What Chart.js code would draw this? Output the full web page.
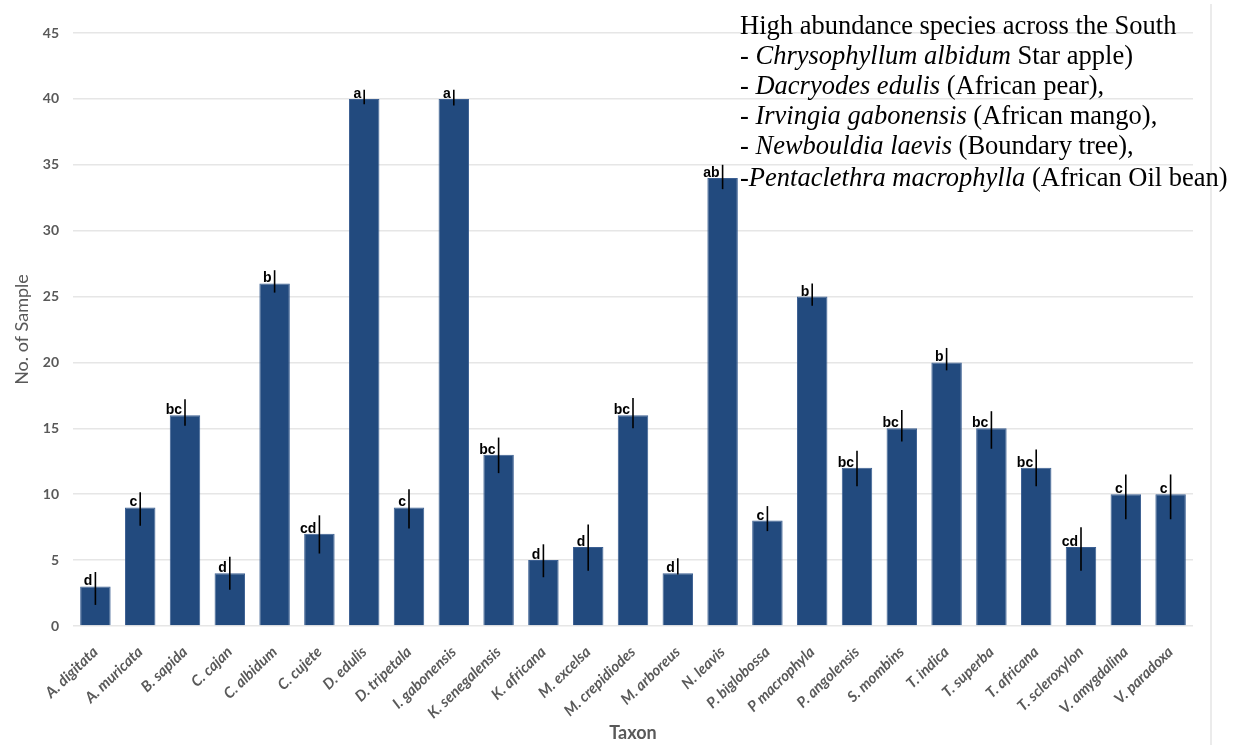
<!DOCTYPE html>
<html>
<head>
<meta charset="utf-8">
<script src="https://cdn.jsdelivr.net/npm/chart.js@4.4.1/dist/chart.umd.min.js"></script>
<style>
  html, body { margin: 0; padding: 0; background: #ffffff; }
  #wrap { width: 1242px; height: 749px; position: relative; }
</style>
</head>
<body>
<div id="wrap"><canvas id="chart" width="1242" height="749"></canvas></div>
<script>
// Taxa sampled and their counts
const taxa = [
  'A. digitata', 'A. muricata', 'B. sapida', 'C. cajan', 'C. albidum', 'C. cujete',
  'D. edulis', 'D. tripetala', 'I. gabonensis', 'K. senegalensis', 'K. africana',
  'M. excelsa', 'M. crepidiodes', 'M. arboreus', 'N. leavis', 'P. biglobossa',
  'P macrophyla', 'P. angolensis', 'S. mombins', 'T. indica', 'T. superba',
  'T. africana', 'T. scleroxylon', 'V. amygdalina', 'V. paradoxa'
];
const samples = [3, 9, 16, 4, 26, 7, 40, 9, 40, 13, 5, 6, 16, 4, 34, 8, 25, 12, 15, 20, 15, 12, 6, 10, 10];

// Error bar extents above and below each count
const errUp   = [1.1, 1.15, 1.2, 1.25, 1.0, 1.4, 0.7, 1.37, 0.7, 1.3, 1.2, 1.7, 1.3, 1.15, 1.0, 1.1, 1.0, 1.3, 1.4, 1.1, 1.3, 1.4, 1.5, 1.5, 1.5];
const errDown = [1.4, 1.4, 0.8, 1.25, 0.7, 1.5, 0.4, 1.6, 0.5, 1.4, 1.3, 1.8, 1.0, 0.1, 0.85, 0.8, 0.7, 1.4, 1.0, 0.6, 1.55, 1.4, 1.8, 1.9, 1.9];

// Significance groupings
const groups = ['d', 'c', 'bc', 'd', 'b', 'cd', 'a', 'c', 'a', 'bc', 'd', 'd', 'bc', 'd', 'ab', 'c', 'b', 'bc', 'bc', 'b', 'bc', 'bc', 'cd', 'c', 'c'];

// Value axis ticks
const yTicks = [0, 5, 10, 15, 20, 25, 30, 35, 40, 45];

// Note block: heading plus species lines as [prefix, italic name, remainder]
const noteTitle = 'High abundance species across the South';
const noteSpecies = [
  ['- ', 'Chrysophyllum albidum', ' Star apple)'],
  ['- ', 'Dacryodes edulis', ' (African pear),'],
  ['- ', 'Irvingia gabonensis', ' (African mango),'],
  ['- ', 'Newbouldia laevis', ' (Boundary tree),'],
  ['-', 'Pentaclethra macrophylla', ' (African Oil bean)']
];

const GREY = '#595959';
const BAR = '#224a7e';

// Error bars and group letters on top of each bar
const annotate = {
  id: 'annotate',
  afterDatasetsDraw(chart) {
    const ctx = chart.ctx;
    const y = chart.scales.y;
    const meta = chart.getDatasetMeta(0);
    ctx.save();
    meta.data.forEach((bar, i) => {
      const x = bar.x;
      const top = y.getPixelForValue(samples[i] + errUp[i]);
      const bot = y.getPixelForValue(samples[i] - errDown[i]);
      ctx.strokeStyle = '#000000';
      ctx.lineWidth = 1.6;
      ctx.beginPath();
      ctx.moveTo(x, top);
      ctx.lineTo(x, bot);
      ctx.stroke();
      ctx.fillStyle = '#000000';
      ctx.font = 'bold 14px "Liberation Sans", Arial, sans-serif';
      ctx.textAlign = 'right';
      ctx.textBaseline = 'alphabetic';
      ctx.fillText(groups[i], x - 3, y.getPixelForValue(samples[i]) - 1);
    });
    ctx.restore();
  },
  afterDraw(chart) {
    const ctx = chart.ctx;
    ctx.save();
    // thin frame line on the right
    ctx.strokeStyle = '#e4e4e4';
    ctx.lineWidth = 1.5;
    ctx.beginPath();
    ctx.moveTo(1211, 4);
    ctx.lineTo(1211, 745);
    ctx.stroke();

    // note block
    const left = 740;
    const baselines = [34, 64, 94, 124, 154, 186];
    const normal = '26.5px "Liberation Serif", "Times New Roman", serif';
    const italic = 'italic 26.5px "Liberation Serif", "Times New Roman", serif';
    ctx.fillStyle = '#000000';
    ctx.textAlign = 'left';
    ctx.textBaseline = 'alphabetic';
    ctx.font = normal;
    ctx.fillText(noteTitle, left, baselines[0]);
    noteSpecies.forEach((parts, i) => {
      let x = left;
      parts.forEach((txt, k) => {
        ctx.font = k === 1 ? italic : normal;
        ctx.fillText(txt, x, baselines[i + 1]);
        x += ctx.measureText(txt).width;
      });
    });
    ctx.restore();
  }
};

new Chart(document.getElementById('chart'), {
  type: 'bar',
  data: {
    labels: taxa,
    datasets: [{
      data: samples,
      backgroundColor: BAR,
      borderColor: '#3b5f92',
      borderWidth: 1,
      barPercentage: 0.68,
      categoryPercentage: 1.0
    }]
  },
  options: {
    responsive: false,
    animation: false,
    layout: { padding: { top: 33, right: 49, left: 0, bottom: 0 } },
    plugins: { legend: { display: false }, tooltip: { enabled: false } },
    scales: {
      x: {
        grid: { display: false, drawTicks: false },
        border: { display: false },
        ticks: {
          autoSkip: false,
          minRotation: 44,
          maxRotation: 44,
          padding: 17,
          color: GREY,
          font: { family: 'Lato', style: 'italic', weight: 'bold', size: 15 }
        },
        title: {
          display: true,
          text: 'Taxon',
          color: GREY,
          font: { family: 'Lato', weight: 'bold', size: 18 },
          padding: { top: 0, bottom: 5 }
        },
        afterFit(scale) { scale.height = 123; }
      },
      y: {
        min: 0,
        max: 45,
        afterBuildTicks(scale) { scale.ticks = yTicks.map(v => ({ value: v })); },
        ticks: {
          padding: 14,
          color: GREY,
          font: { family: 'Lato', weight: 'bold', size: 14 }
        },
        grid: { color: '#e6e6e6', lineWidth: 1.5, drawTicks: false },
        border: { display: false },
        title: {
          display: true,
          text: 'No. of Sample',
          color: GREY,
          font: { family: 'Lato', size: 18 },
          padding: { top: 11, bottom: 0 }
        },
        afterFit(scale) { scale.width = 73; }
      }
    }
  },
  plugins: [annotate]
});
</script>
</body>
</html>
